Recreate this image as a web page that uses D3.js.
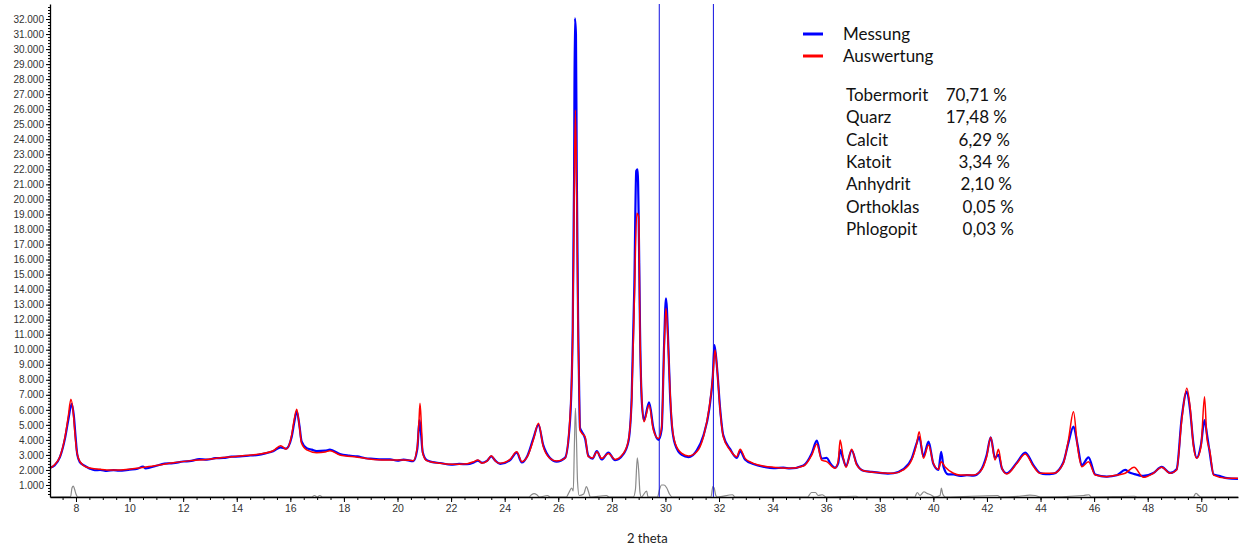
<!DOCTYPE html>
<html><head><meta charset="utf-8">
<script src="https://cdn.jsdelivr.net/npm/d3@7"></script>
<style>body{margin:0;background:#fff}svg{display:block}</style>
</head><body><svg id="c" width="1241" height="546"></svg>
<script>
// ---- data (2θ, intensity) ----
const auswertung = [
[7.03,2100],[7.2,2350],[7.4,2880],[7.59,4200],[7.71,5540],[7.81,6700],[7.9,5780],[7.96,4450],[8.03,3200],[8.15,2550],[8.4,2180],[8.9,2040],[9.15,2000],[9.6,2000],[10.0,2050],[10.4,2150],[11.0,2300],[11.63,2480],[12.3,2620],[12.88,2700],[13.5,2820],[14.12,2930],[14.8,3050],[15.36,3280],[15.64,3610],[15.84,3390],[16.05,4320],[16.14,5320],[16.24,6030],[16.34,4880],[16.42,3770],[16.61,3330],[16.98,3150],[17.3,3200],[17.48,3280],[17.85,2990],[18.5,2850],[19.1,2700],[19.72,2660],[20.22,2660],[20.59,2620],[20.74,3550],[20.8,5200],[20.84,6430],[20.89,5000],[20.94,3130],[21.09,2620],[21.59,2440],[22.0,2380],[22.6,2420],[22.85,2550],[23.0,2660],[23.15,2450],[23.35,2600],[23.5,2950],[23.65,2600],[23.83,2440],[24.2,2700],[24.45,3210],[24.64,2550],[24.85,2900],[25.07,3990],[25.26,5100],[25.44,3550],[25.69,2770],[25.94,2590],[26.25,2770],[26.44,5540],[26.54,11090],[26.59,19510],[26.64,25950],[26.69,19960],[26.74,11090],[26.78,7320],[26.81,4660],[26.88,4440],[27.0,4210],[27.12,2880],[27.28,2800],[27.44,3210],[27.62,2770],[27.87,3100],[28.12,2700],[28.43,3100],[28.62,3990],[28.74,6650],[28.84,13310],[28.93,19080],[29.0,18850],[29.05,11090],[29.12,6650],[29.2,5210],[29.39,6320],[29.55,4660],[29.74,4100],[29.86,4880],[29.95,9980],[30.02,12750],[30.11,9980],[30.17,7320],[30.24,5120],[30.36,3790],[30.61,3100],[30.86,2930],[31.17,3210],[31.42,4210],[31.64,6210],[31.77,8200],[31.85,9980],[31.94,8430],[32.04,5990],[32.16,4210],[32.41,3330],[32.66,2880],[32.79,3370],[32.97,2770],[33.28,2440],[33.7,2250],[34.03,2180],[34.65,2110],[35.15,2260],[35.46,2990],[35.65,3730],[35.83,2660],[36.02,2550],[36.33,2110],[36.45,2600],[36.52,3990],[36.64,2770],[36.74,2180],[36.95,3370],[37.14,2330],[37.39,1950],[38.01,1820],[38.51,1780],[38.88,2000],[39.19,2660],[39.38,3770],[39.47,4540],[39.63,2770],[39.82,3660],[40.0,2440],[40.19,2040],[40.29,2550],[40.44,2200],[40.75,1780],[41.0,1660],[41.49,1660],[41.74,1880],[41.99,2880],[42.14,4170],[42.3,2660],[42.43,3370],[42.56,2110],[42.74,1730],[43.12,2440],[43.43,3060],[43.74,2220],[43.98,1780],[44.48,1780],[44.85,2440],[45.04,3990],[45.23,5870],[45.38,3550],[45.54,2220],[45.79,2550],[46.04,1660],[46.47,1550],[46.85,1660],[47.16,1780],[47.49,2180],[47.84,1510],[48.21,1780],[48.52,2180],[48.84,1780],[49.08,2000],[49.27,5320],[49.46,7430],[49.58,6210],[49.71,3550],[49.83,2770],[49.99,3550],[50.12,6870],[50.21,4100],[50.31,3330],[50.46,1660],[50.96,1440],[51.37,1440]
];
const messung = [
[7.03,2150],[7.2,2300],[7.4,2850],[7.59,4100],[7.71,5300],[7.84,6400],[7.92,5600],[7.98,4300],[8.05,3000],[8.15,2500],[8.3,2300],[8.5,2100],[8.7,1980],[8.9,2000],[9.15,1930],[9.4,1990],[9.6,1950],[10.0,2020],[10.3,2080],[10.5,2230],[10.6,2100],[11.0,2280],[11.3,2420],[11.63,2450],[12.0,2560],[12.3,2600],[12.6,2720],[12.88,2680],[13.2,2780],[13.5,2800],[13.8,2880],[14.12,2900],[14.5,2960],[14.8,3000],[15.1,3120],[15.36,3250],[15.64,3500],[15.84,3420],[16.05,4200],[16.14,5100],[16.24,5900],[16.34,4950],[16.42,3900],[16.61,3450],[16.8,3350],[16.98,3250],[17.3,3280],[17.48,3350],[17.85,3050],[18.2,2950],[18.5,2900],[18.8,2780],[19.1,2740],[19.4,2700],[19.72,2700],[20.0,2620],[20.22,2690],[20.59,2580],[20.74,3400],[20.82,5320],[20.87,4600],[20.94,3200],[21.09,2650],[21.3,2520],[21.59,2460],[22.0,2350],[22.3,2400],[22.6,2380],[22.85,2500],[23.0,2620],[23.15,2480],[23.35,2620],[23.5,2900],[23.65,2620],[23.83,2400],[24.2,2650],[24.45,3150],[24.64,2500],[24.85,2950],[25.07,4100],[25.26,5000],[25.44,3650],[25.69,2800],[25.94,2550],[26.25,2800],[26.44,5300],[26.54,11500],[26.59,21300],[26.62,32050],[26.66,31000],[26.69,22000],[26.74,12000],[26.78,7300],[26.81,4800],[26.88,4550],[27.0,4100],[27.12,2950],[27.28,2750],[27.44,3250],[27.62,2700],[27.87,3150],[28.12,2650],[28.43,3050],[28.62,3900],[28.74,6800],[28.84,14300],[28.91,21900],[28.96,22000],[29.0,19000],[29.05,11500],[29.12,6500],[29.2,5300],[29.39,6500],[29.55,4800],[29.74,4000],[29.86,4700],[29.95,10300],[30.02,13420],[30.11,10200],[30.17,7100],[30.24,5000],[30.36,3700],[30.61,3000],[30.86,2850],[31.17,3300],[31.42,4300],[31.64,6100],[31.77,8300],[31.83,10310],[31.94,8500],[32.04,6100],[32.16,4300],[32.41,3400],[32.66,2800],[32.79,3250],[32.97,2700],[33.28,2400],[33.7,2200],[34.03,2120],[34.4,2150],[34.65,2100],[35.15,2300],[35.46,3100],[35.65,3950],[35.83,2750],[36.02,2800],[36.15,2450],[36.33,2150],[36.45,2450],[36.52,3330],[36.64,2700],[36.74,2250],[36.95,3300],[37.14,2400],[37.39,1950],[37.7,1870],[38.01,1800],[38.3,1750],[38.51,1780],[38.88,2050],[39.19,2750],[39.38,3800],[39.47,4210],[39.63,2900],[39.82,3880],[40.0,2400],[40.19,2000],[40.29,3210],[40.38,2200],[40.55,1700],[40.75,1700],[41.0,1600],[41.25,1650],[41.49,1620],[41.74,1900],[41.99,3000],[42.14,4170],[42.3,2800],[42.43,3000],[42.56,2100],[42.74,1780],[43.12,2500],[43.43,3150],[43.74,2300],[43.98,1800],[44.2,1720],[44.48,1760],[44.85,2500],[45.04,3800],[45.23,4880],[45.38,3700],[45.54,2300],[45.79,2840],[46.04,1700],[46.47,1560],[46.85,1650],[47.16,2000],[47.3,1850],[47.49,1730],[47.84,1600],[48.21,1800],[48.52,2200],[48.84,1800],[49.08,2050],[49.27,5500],[49.46,7210],[49.58,6000],[49.71,3700],[49.83,2800],[49.99,3700],[50.12,5320],[50.21,4400],[50.31,3200],[50.46,1700],[50.7,1600],[50.96,1450],[51.37,1400]
];
const differenz = [
[7.03,200],[7.8,220],[7.85,800],[7.9,930],[7.95,700],[8.0,400],[8.05,220],[8.1,200],[16.8,200],[16.9,300],[17.0,200],[17.1,300],[17.2,200],[24.9,200],[25.0,350],[25.1,420],[25.2,350],[25.3,200],[25.6,300],[25.7,200],[26.3,200],[26.4,500],[26.5,800],[26.56,600],[26.6,3500],[26.64,6100],[26.68,4000],[26.72,1200],[26.78,300],[26.95,400],[27.05,900],[27.12,600],[27.2,200],[27.8,300],[27.9,200],[28.8,200],[28.88,700],[28.95,2800],[29.0,2000],[29.05,500],[29.1,200],[29.3,600],[29.35,200],[29.7,200],[29.78,700],[29.85,1000],[29.95,1000],[30.05,800],[30.15,400],[30.25,200],[31.7,200],[31.77,900],[31.82,800],[31.88,300],[31.95,200],[32.5,350],[32.6,200],[35.3,200],[35.45,500],[35.6,500],[35.7,300],[35.85,350],[36.0,200],[37.1,250],[37.2,200],[39.3,200],[39.4,500],[39.5,300],[39.65,550],[39.75,450],[39.9,350],[40.05,200],[40.25,300],[40.3,800],[40.35,400],[40.45,200],[42.4,300],[42.5,200],[43.2,250],[43.6,320],[43.8,300],[44.0,200],[45.6,300],[45.8,350],[45.9,200],[47.5,250],[47.6,200],[49.7,200],[49.8,450],[49.9,300],[50.0,200],[51.37,200]
];
const markerLines = [29.77, 31.79];
const xTicks = [8,10,12,14,16,18,20,22,24,26,28,30,32,34,36,38,40,42,44,46,48,50];
const yTicks = [1000,2000,3000,4000,5000,6000,7000,8000,9000,10000,11000,12000,13000,14000,15000,16000,17000,18000,19000,20000,21000,22000,23000,24000,25000,26000,27000,28000,29000,30000,31000,32000];
const legendNames = ["Messung","Auswertung"];
const legendColors = ["#0000ff","#ff0000"];
const phases = ["Tobermorit","Quarz","Calcit","Katoit","Anhydrit","Orthoklas","Phlogopit"];
const phaseValues = ["70,71 %","17,48 %","6,29 %","3,34 %","2,10 %","0,05 %","0,03 %"];
const xTitle = "2 theta";

// ---- drawing ----
const svg = d3.select("#c");
svg.append("rect").attr("width",1241).attr("height",546).attr("fill","#fff");
const x = d3.scaleLinear().domain([7.03,51.37]).range([50,1238]);
const y = d3.scaleLinear().domain([200,33000]).range([497,4]);
const loc = d3.formatLocale({decimal:",",thousands:".",grouping:[3],currency:["",""]});
const fmt = loc.format(",.0f");

svg.append("clipPath").attr("id","clip").append("rect")
  .attr("x",50).attr("y",4).attr("width",1188).attr("height",493);

const plot = svg.append("g").attr("clip-path","url(#clip)");
const line = d3.line().x(d=>x(d[0])).y(d=>y(d[1])).curve(d3.curveMonotoneX);

plot.append("path").datum(differenz).attr("d",line)
  .attr("fill","none").attr("stroke","#8a8a8a").attr("stroke-width",1.2);
plot.selectAll(".mk").data(markerLines).join("line")
  .attr("x1",d=>x(d)).attr("x2",d=>x(d)).attr("y1",y.range()[1]).attr("y2",y.range()[0])
  .attr("stroke","#1010e0").attr("stroke-width",1);
plot.append("path").datum(messung).attr("d",line)
  .attr("fill","none").attr("stroke","#0000ff").attr("stroke-width",2.2).attr("stroke-linejoin","round");
plot.append("path").datum(auswertung).attr("d",line)
  .attr("fill","none").attr("stroke","#ff0000").attr("stroke-width",1.5).attr("stroke-linejoin","round");

// axes
const fontAx = "'Liberation Sans', Arial, sans-serif";
const minorX = d3.range(7.5,51.4,0.5);
svg.append("g").attr("transform","translate(0,497)")
  .call(d3.axisBottom(x).tickValues(minorX).tickSize(3).tickFormat(""))
  .call(g=>g.select(".domain").remove());
const gx = svg.append("g").attr("transform","translate(0,497)")
  .call(d3.axisBottom(x).tickValues(xTicks).tickSize(5).tickPadding(3).tickSizeOuter(0).tickFormat(d3.format("d")));
gx.select(".domain").attr("stroke","#000").attr("stroke-width",1.3);
gx.selectAll("text").attr("font-family",fontAx).attr("font-size",10.5).attr("fill","#333");

const minorY = d3.range(400,33000,200);
svg.append("g").attr("transform","translate(50,0)")
  .call(d3.axisLeft(y).tickValues(minorY).tickSize(2).tickFormat(""))
  .call(g=>g.select(".domain").remove());
const gy = svg.append("g").attr("transform","translate(50,0)")
  .call(d3.axisLeft(y).tickValues(yTicks).tickSize(4).tickPadding(2).tickSizeOuter(0).tickFormat(fmt));
gy.select(".domain").attr("stroke","#000").attr("stroke-width",1.3);
gy.selectAll("text").attr("font-family",fontAx).attr("font-size",10).attr("fill","#333");

svg.append("text").attr("x",627).attr("y",543).text(xTitle)
  .attr("font-family","Lato, 'Open Sans', sans-serif").attr("font-size",13).attr("fill","#222");

// legend
const fontL = "Lato, 'Open Sans', sans-serif";
const lg = svg.append("g");
legendNames.forEach((n,i)=>{
  lg.append("line").attr("x1",803).attr("x2",823).attr("y1",34+i*22).attr("y2",34+i*22)
    .attr("stroke",legendColors[i]).attr("stroke-width",3);
  lg.append("text").attr("x",843).attr("y",40+i*22).text(n)
    .attr("font-family",fontL).attr("font-size",17).attr("fill","#111");
});
phases.forEach((p,i)=>{
  lg.append("text").attr("x",846).attr("y",101+i*22.3).text(p)
    .attr("font-family",fontL).attr("font-size",17).attr("fill","#111");
  lg.append("text").attr("x",1007 + (i>=2?3:0) + (i>=4?2:0) + (i>=5?2:0)).attr("y",101+i*22.3).text(phaseValues[i])
    .attr("text-anchor","end").attr("font-family",fontL).attr("font-size",17).attr("fill","#111");
});
</script></body></html>
